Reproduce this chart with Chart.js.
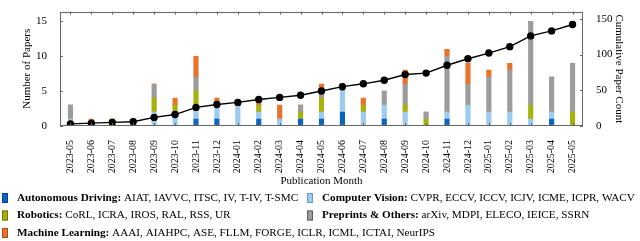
<!DOCTYPE html>
<html>
<head>
<meta charset="utf-8">
<script src="https://cdn.jsdelivr.net/npm/chart.js@4.4.0/dist/chart.umd.min.js"></script>
<style>
  html, body { margin: 0; padding: 0; background: #fff; }
  #wrap { width: 640px; height: 241px; }
</style>
</head>
<body>
<div id="wrap"><canvas id="papers" width="640" height="241"></canvas></div>
<script>
// Datos
const months = ['2023-05','2023-06','2023-07','2023-08','2023-09','2023-10','2023-11','2023-12',
  '2024-01','2024-02','2024-03','2024-04','2024-05','2024-06','2024-07','2024-08','2024-09','2024-10',
  '2024-11','2024-12','2025-01','2025-02','2025-03','2025-04','2025-05'];
const autonomousDriving = [0,0,0,0,0,0,1,1,0,1,0,1,1,2,0,1,0,0,1,0,0,0,0,1,0];
const computerVision    = [1,0,0,0,2,2,2,2,3,1,1,0,1,4,2,2,2,0,1,3,2,2,1,1,0];
const robotics          = [0,0,1,1,2,1,2,0,0,1,0,1,2,0,1,0,1,1,0,0,0,0,2,0,2];
const preprints         = [2,0,0,0,2,0,2,0,0,0,0,1,1,0,0,2,3,1,8,3,5,6,12,5,7];
const machineLearning   = [0,1,0,0,0,1,3,1,0,1,2,0,1,0,1,0,2,0,1,3,1,1,0,0,0];
const cumulative = [3,4,5,6,12,16,26,30,33,37,40,43,49,55,59,64,72,74,85,94,102,111,126,133,142];
const leftTicks = [0,5,10,15];
const rightTicks = [0,50,100,150];

const legendNames = ['Autonomous Driving:','Computer Vision:','Robotics:','Preprints & Others:','Machine Learning:'];
const legendVenues = ['AIAT, IAVVC, ITSC, IV, T-IV, T-SMC','CVPR, ECCV, ICCV, ICJV, ICME, ICPR, WACV',
  'CoRL, ICRA, IROS, RAL, RSS, UR','arXiv, MDPI, ELECO, IEICE, SSRN',
  'AAAI, AIAHPC, ASE, FLLM, FORGE, ICLR, ICML, ICTAI, NeurIPS'];
const colors = ['#0b63c4','#9dcbef','#a7b10b','#9c9c9c','#e9732b'];
const borders = ['#07438a','#6a9cc4','#6f7606','#5e5e5e','#a84d15'];

const serif = "'Liberation Serif', 'Times New Roman', serif";
Chart.defaults.font.family = serif;
Chart.defaults.font.size = 11;
Chart.defaults.color = '#000';

// Marco y marcas hacia dentro
const framePlugin = {
  id: 'frame',
  afterDatasetsDraw(chart) {
    const { ctx, chartArea: a, scales } = chart;
    ctx.save();
    ctx.strokeStyle = '#666';
    ctx.lineWidth = 1;
    ctx.beginPath();
    months.forEach((m, i) => {
      const x = Math.round(scales.x.getPixelForValue(i)) + 0.5;
      ctx.moveTo(x, a.top); ctx.lineTo(x, a.top + 3);
      ctx.moveTo(x, a.bottom); ctx.lineTo(x, a.bottom - 3);
    });
    leftTicks.forEach(v => {
      const y = Math.round(scales.y.getPixelForValue(v)) + 0.5;
      ctx.moveTo(a.left, y); ctx.lineTo(a.left + 3, y);
    });
    rightTicks.forEach(v => {
      const y = Math.round(scales.y2.getPixelForValue(v)) + 0.5;
      ctx.moveTo(a.right, y); ctx.lineTo(a.right - 3, y);
    });
    ctx.stroke();
    ctx.strokeRect(Math.round(a.left) + 0.5, Math.round(a.top) + 0.5,
      Math.round(a.right - a.left) - 1, Math.round(a.bottom - a.top) - 1);
    ctx.restore();
  }
};

// Leyenda en tres filas
const legendPlugin = {
  id: 'legendRows',
  afterDraw(chart) {
    const ctx = chart.ctx;
    const cols = [2, 307], rows = [198, 215.5, 233];
    const fs = 11.2;
    ctx.save();
    ctx.textBaseline = 'middle';
    legendNames.forEach((name, i) => {
      const x = cols[i % 2], y = rows[Math.floor(i / 2)];
      ctx.fillStyle = colors[i];
      ctx.fillRect(x, y - 5, 6, 10);
      ctx.strokeStyle = borders[i];
      ctx.lineWidth = 1;
      ctx.strokeRect(x + 0.5, y - 4.5, 5, 9);
      ctx.fillStyle = '#000';
      ctx.font = `bold ${fs}px ${serif}`;
      const tx = x + 15;
      ctx.fillText(name, tx, y);
      const w = ctx.measureText(name + ' ').width;
      ctx.font = `${fs}px ${serif}`;
      ctx.fillText(legendVenues[i], tx + w, y);
    });
    ctx.restore();
  }
};

function barSet(label, data, i) {
  return { type: 'bar', label, data, yAxisID: 'y', stack: 'papers',
    backgroundColor: colors[i], borderWidth: 0, barThickness: 4.5, order: 2 };
}

new Chart(document.getElementById('papers'), {
  data: {
    labels: months,
    datasets: [
      { type: 'line', label: 'Cumulative', data: cumulative, yAxisID: 'y2',
        borderColor: '#000', backgroundColor: '#000', borderWidth: 1.4,
        pointRadius: 3, pointHoverRadius: 3, tension: 0, order: 1 },
      barSet(legendNames[0], autonomousDriving, 0),
      barSet(legendNames[1], computerVision, 1),
      barSet(legendNames[2], robotics, 2),
      barSet(legendNames[3], preprints, 3),
      barSet(legendNames[4], machineLearning, 4)
    ]
  },
  options: {
    responsive: false,
    animation: false,
    layout: { padding: { top: 1, bottom: 53, left: 0, right: 0 } },
    plugins: { legend: { display: false }, tooltip: { enabled: false } },
    scales: {
      x: {
        stacked: true, offset: true,
        grid: { display: false }, border: { display: false },
        ticks: { minRotation: 90, maxRotation: 90, autoSkip: false, padding: 6, font: { size: 10 } },
        title: { display: true, text: 'Publication Month', padding: { top: 0, bottom: 0 } },
        afterFit: s => { s.height = 62; }
      },
      y: {
        stacked: true, position: 'left', min: 0, max: 16.4,
        grid: { display: false }, border: { display: false },
        ticks: { stepSize: 5, includeBounds: false, padding: 5 },
        title: { display: true, text: 'Number of Papers', padding: { top: 21, bottom: 0 } },
        afterFit: s => { s.width = 60; }
      },
      y2: {
        position: 'right', min: 0, max: 160,
        grid: { display: false }, border: { display: false },
        ticks: { stepSize: 50, includeBounds: false, padding: 5 },
        title: { display: true, text: 'Cumulative Paper Count', padding: { top: 15, bottom: 0 } },
        afterFit: s => { s.width = 57; }
      }
    }
  },
  plugins: [framePlugin, legendPlugin]
});
</script>
</body>
</html>
